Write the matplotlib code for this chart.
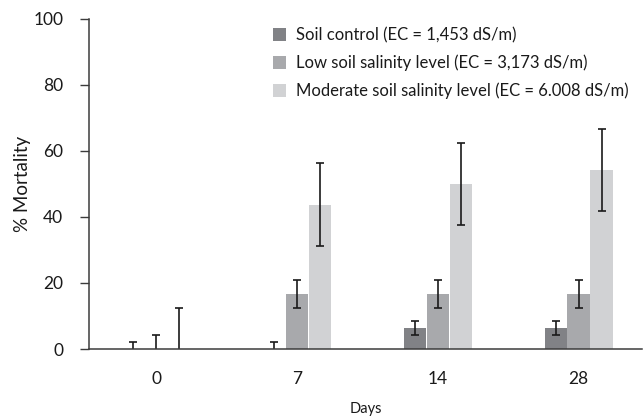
import numpy as np
import matplotlib

matplotlib.use("Agg")
import matplotlib.pyplot as plt
from matplotlib.patches import Patch

plt.rcParams["font.family"] = ["Lato", "DejaVu Sans"]

days = ["0", "7", "14", "28"]
series = [
    "Soil control (EC = 1,453 dS/m)",
    "Low soil salinity level (EC = 3,173 dS/m)",
    "Moderate soil salinity level (EC = 6.008 dS/m)",
]
control = [0.0, 0.0, 6.25, 6.25]
control_err = [2.1, 2.1, 2.1, 2.1]
low = [0.0, 16.67, 16.67, 16.67]
low_err = [4.2, 4.2, 4.2, 4.2]
moderate = [0.0, 43.75, 50.0, 54.17]
moderate_err = [12.5, 12.5, 12.5, 12.5]

COLORS = ["#818286", "#a8a9ac", "#d1d2d4"]
SPINE = "#3c3c3c"
INK = "#1a1a1a"

fig = plt.figure(figsize=(6.44, 4.19), dpi=100)
ax = fig.add_axes([0.138, 0.167, 0.859, 0.788])

x = np.arange(len(days))
width = 0.16
offsets = [-0.163, 0.0, 0.163]
for vals, errs, off, col in zip([control, low, moderate],
                                [control_err, low_err, moderate_err],
                                offsets, COLORS):
    ax.bar(x + off, vals, width=width, color=col, linewidth=0)
    ax.errorbar(x + off, vals, yerr=errs, fmt="none", ecolor=INK,
                elinewidth=1.2, capsize=3.2, capthick=1.2)

ax.set_xlim(-0.48, 3.45)
ax.set_ylim(0, 100)
ax.set_yticks([0, 20, 40, 60, 80, 100])
ax.set_xticks(x)
ax.set_xticklabels(days)

for s in ["top", "right"]:
    ax.spines[s].set_visible(False)
for s in ["left", "bottom"]:
    ax.spines[s].set_color(SPINE)
    ax.spines[s].set_linewidth(1.1)

ax.tick_params(axis="y", length=6.5, width=1.0, color=SPINE, pad=12,
               labelsize=12.5, labelcolor=INK)
ax.tick_params(axis="x", length=0, pad=16, labelsize=12.5, labelcolor=INK)

ax.set_ylabel("% Mortality", fontsize=13.5, color=INK)
ax.yaxis.set_label_coords(-0.105, 0.5)
ax.set_xlabel("Days", fontsize=10.5, color=INK)
ax.xaxis.set_label_coords(0.5, -0.16)

handles = [Patch(facecolor=c, edgecolor="none") for c in COLORS]
ax.legend(handles, series, loc="upper left", bbox_to_anchor=(0.305, 1.02),
          frameon=False, fontsize=12, handlelength=0.8, handleheight=0.8,
          handletextpad=0.6, labelspacing=0.68, labelcolor=INK)

fig.savefig("out.png", dpi=100, facecolor="white")
